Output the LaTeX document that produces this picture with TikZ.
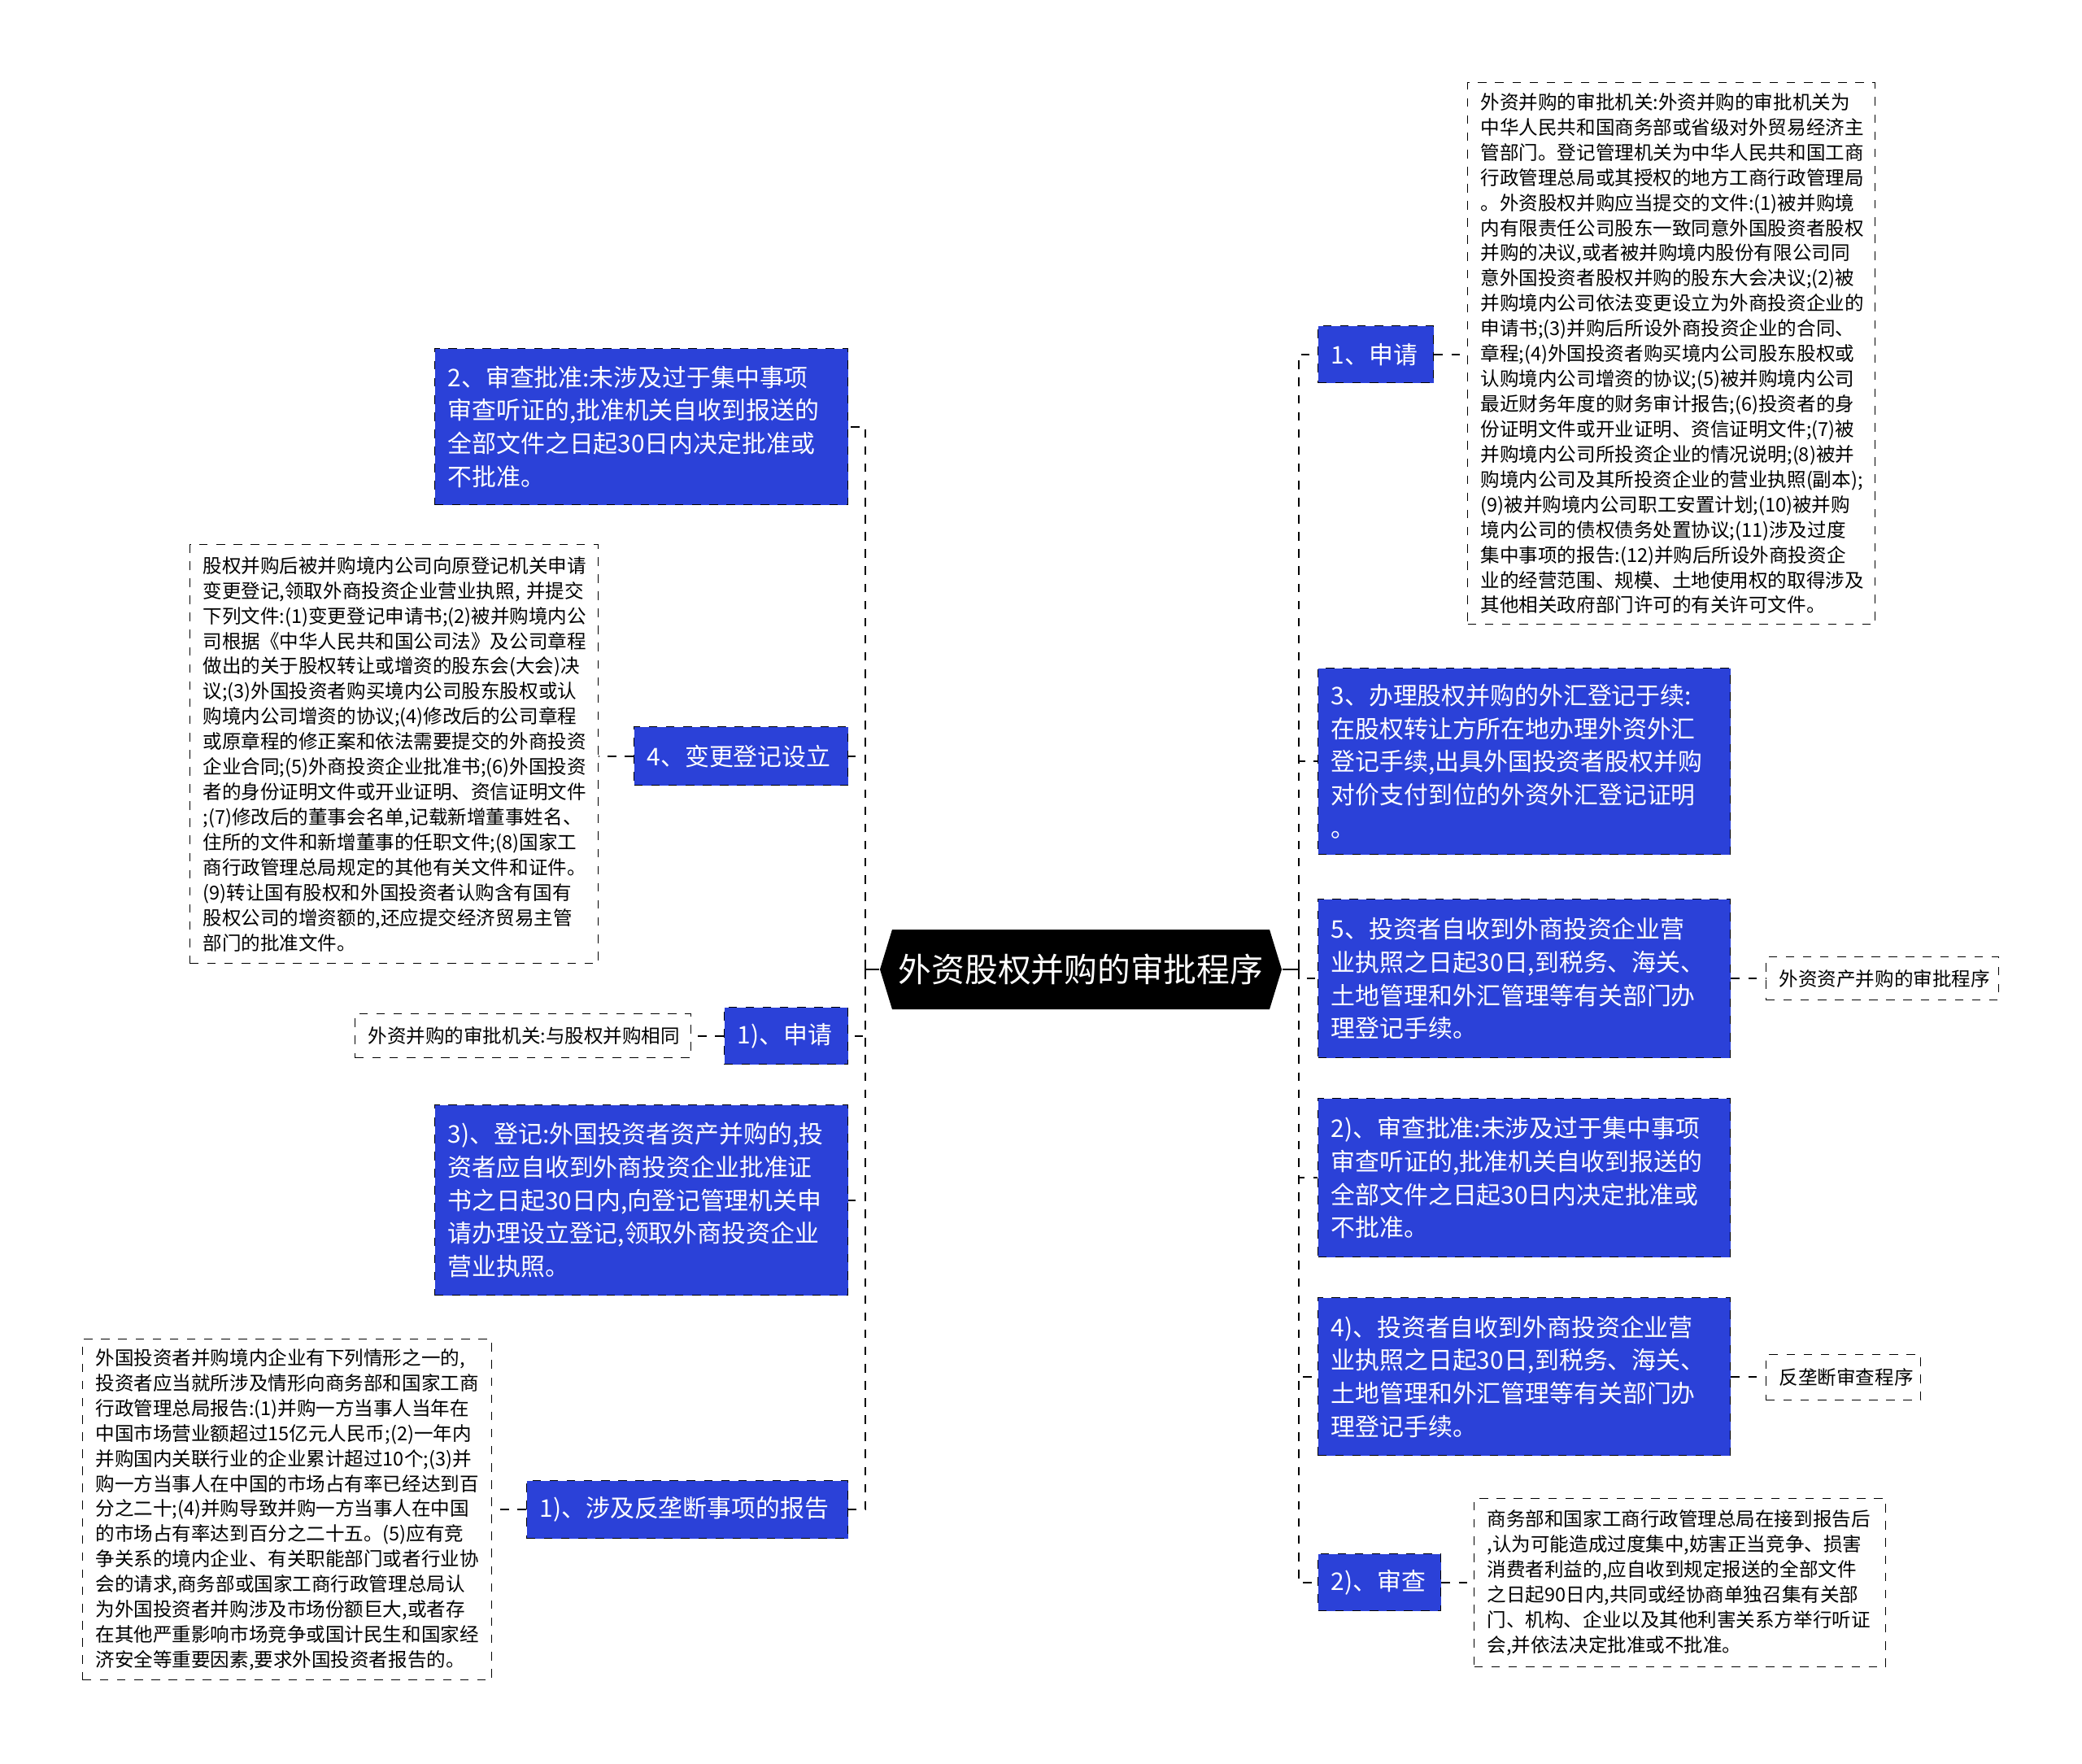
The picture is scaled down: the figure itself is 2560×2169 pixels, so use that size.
\documentclass[tikz,border=0pt]{standalone}
\usepackage{fontspec}
\setmainfont{Noto Sans CJK SC}
\usetikzlibrary{shapes.symbols}
\definecolor{nodeBlue}{HTML}{2B41D8}

\begin{document}
\begin{tikzpicture}[x=0.1mm, y=-0.1mm,
    topic/.style={signal, signal to=west and east, signal pointer angle=146,
      fill=black, text=white, minimum width=49.4mm, minimum height=9.8mm,
      inner sep=0pt, font=\fontsize{11.6}{14}\selectfont},
    mainbox/.style={draw=black, dashed, fill=nodeBlue, text=white, anchor=north west,
      align=left, inner xsep=1.6mm, inner ysep=0pt, font=\fontsize{8.5}{11.6}\selectfont},
    notebox/.style={draw=black, dashed, fill=white, anchor=north west,
      align=left, inner xsep=1.6mm, inner ysep=0pt, font=\fontsize{6.7}{8.8}\selectfont},
    link/.style={dashed, line width=0.6pt}]
  \fill[white] (0,0) rectangle (2560,2169);
  \useasboundingbox (0,0) rectangle (2560,2169);

  % root
  \node[topic] (root) at (1329,1192) {外资股权并购的审批程序};
  \coordinate (hubL) at (1064,1192);
  \coordinate (hubR) at (1597,1192);

  % left branch
  \node[mainbox, text width=47.6mm, minimum height=19.2mm] (l1) at (534,428)
    {2、审查批准:未涉及过于集中事项\\审查听证的,批准机关自收到报送的\\全部文件之日起30日内决定批准或\\不批准。};
  \node[mainbox, text width=23.1mm, minimum height=7.2mm] (l2) at (779,893) {4、变更登记设立};
  \node[mainbox, text width=12.0mm, minimum height=7.0mm] (l3) at (890,1238) {1)、申请};
  \node[mainbox, text width=47.6mm, minimum height=23.4mm] (l4) at (534,1358)
    {3)、登记:外国投资者资产并购的,投\\资者应自收到外商投资企业批准证\\书之日起30日内,向登记管理机关申\\请办理设立登记,领取外商投资企业\\营业执照。};
  \node[mainbox, text width=36.3mm, minimum height=7.1mm] (l5) at (647,1820) {1)、涉及反垄断事项的报告};

  % right branch
  \node[mainbox, text width=11.0mm, minimum height=7.0mm] (r1) at (1620,400) {1、申请};
  \node[mainbox, text width=47.5mm, minimum height=22.9mm] (r2) at (1620,821)
    {3、办理股权并购的外汇登记于续:\\在股权转让方所在地办理外资外汇\\登记手续,出具外国投资者股权并购\\对价支付到位的外资外汇登记证明\\。};
  \node[mainbox, text width=47.5mm, minimum height=19.5mm] (r3) at (1620,1105)
    {5、投资者自收到外商投资企业营\\业执照之日起30日,到税务、海关、\\土地管理和外汇管理等有关部门办\\理登记手续。};
  \node[mainbox, text width=47.5mm, minimum height=19.5mm] (r4) at (1620,1350)
    {2)、审查批准:未涉及过于集中事项\\审查听证的,批准机关自收到报送的\\全部文件之日起30日内决定批准或\\不批准。};
  \node[mainbox, text width=47.5mm, minimum height=19.4mm] (r5) at (1620,1595)
    {4)、投资者自收到外商投资企业营\\业执照之日起30日,到税务、海关、\\土地管理和外汇管理等有关部门办\\理登记手续。};
  \node[mainbox, text width=11.9mm, minimum height=7.0mm] (r6) at (1620,1910) {2)、审查};

  % notes
  \node[notebox, text width=46.9mm, minimum height=66.6mm] (n1) at (1804,101)
    {外资并购的审批机关:外资并购的审批机关为\\中华人民共和国商务部或省级对外贸易经济主\\管部门。登记管理机关为中华人民共和国工商\\行政管理总局或其授权的地方工商行政管理局\\。外资股权并购应当提交的文件:(1)被并购境\\内有限责任公司股东一致同意外国股资者股权\\并购的决议,或者被并购境内股份有限公司同\\意外国投资者股权并购的股东大会决议;(2)被\\并购境内公司依法变更设立为外商投资企业的\\申请书;(3)并购后所设外商投资企业的合同、\\章程;(4)外国投资者购买境内公司股东股权或\\认购境内公司增资的协议;(5)被并购境内公司\\最近财务年度的财务审计报告;(6)投资者的身\\份证明文件或开业证明、资信证明文件;(7)被\\并购境内公司所投资企业的情况说明;(8)被并\\购境内公司及其所投资企业的营业执照(副本);\\(9)被并购境内公司职工安置计划;(10)被并购\\境内公司的债权债务处置协议;(11)涉及过度\\集中事项的报告:(12)并购后所设外商投资企\\业的经营范围、规模、土地使用权的取得涉及\\其他相关政府部门许可的有关许可文件。};
  \node[notebox, text width=47.0mm, minimum height=51.5mm] (n2) at (233,669)
    {股权并购后被并购境内公司向原登记机关申请\\变更登记,领取外商投资企业营业执照,~并提交\\下列文件:(1)变更登记申请书;(2)被并购境内公\\司根据《中华人民共和国公司法》及公司章程\\做出的关于股权转让或增资的股东会(大会)决\\议;(3)外国投资者购买境内公司股东股权或认\\购境内公司增资的协议;(4)修改后的公司章程\\或原章程的修正案和依法需要提交的外商投资\\企业合同;(5)外商投资企业批准书;(6)外国投资\\者的身份证明文件或开业证明、资信证明文件\\;(7)修改后的董事会名单,记载新增董事姓名、\\住所的文件和新增董事的任职文件;(8)国家工\\商行政管理总局规定的其他有关文件和证件。\\(9)转让国有股权和外国投资者认购含有国有\\股权公司的增资额的,还应提交经济贸易主管\\部门的批准文件。};
  \node[notebox, text width=38.1mm, minimum height=5.4mm] (n3) at (436,1246) {外资并购的审批机关:与股权并购相同};
  \node[notebox, text width=47.1mm, minimum height=41.9mm] (n4) at (101,1646)
    {外国投资者并购境内企业有下列情形之一的,\\投资者应当就所涉及情形向商务部和国家工商\\行政管理总局报告:(1)并购一方当事人当年在\\中国市场营业额超过15亿元人民币;(2)一年内\\并购国内关联行业的企业累计超过10个;(3)并\\购一方当事人在中国的市场占有率已经达到百\\分之二十;(4)并购导致并购一方当事人在中国\\的市场占有率达到百分之二十五。(5)应有竞\\争关系的境内企业、有关职能部门或者行业协\\会的请求,商务部或国家工商行政管理总局认\\为外国投资者并购涉及市场份额巨大,或者存\\在其他严重影响市场竞争或国计民生和国家经\\济安全等重要因素,要求外国投资者报告的。};
  \node[notebox, text width=25.4mm, minimum height=5.3mm] (n5) at (2171,1176) {外资资产并购的审批程序};
  \node[notebox, text width=15.8mm, minimum height=5.6mm] (n6) at (2171,1665) {反垄断审查程序};
  \node[notebox, text width=47.4mm, minimum height=20.7mm] (n7) at (1812,1842)
    {商务部和国家工商行政管理总局在接到报告后\\,认为可能造成过度集中,妨害正当竞争、损害\\消费者利益的,应自收到规定报送的全部文件\\之日起90日内,共同或经协商单独召集有关部\\门、机构、企业以及其他利害关系方举行听证\\会,并依法决定批准或不批准。};

  % connectors
  \draw[line width=0.8pt] (root.west) -- (hubL) ++(0,-12) -- ++(0,24);
  \draw[line width=0.8pt] (root.east) -- (hubR) ++(0,-12) -- ++(0,24);
  \foreach \n in {l1,l2,l3,l4,l5}
    \draw[link] (hubL) |- (\n.east);
  \foreach \n in {r1,r2,r3,r4,r5,r6}
    \draw[link] (hubR) |- (\n.west);
  \foreach \a/\b in {l2/n2,l3/n3,l5/n4}
    \draw[link] (\a.west) -- (\a.west -| \b.east);
  \foreach \a/\b in {r1/n1,r3/n5,r5/n6,r6/n7}
    \draw[link] (\a.east) -- (\a.east -| \b.west);
\end{tikzpicture}
\end{document}
